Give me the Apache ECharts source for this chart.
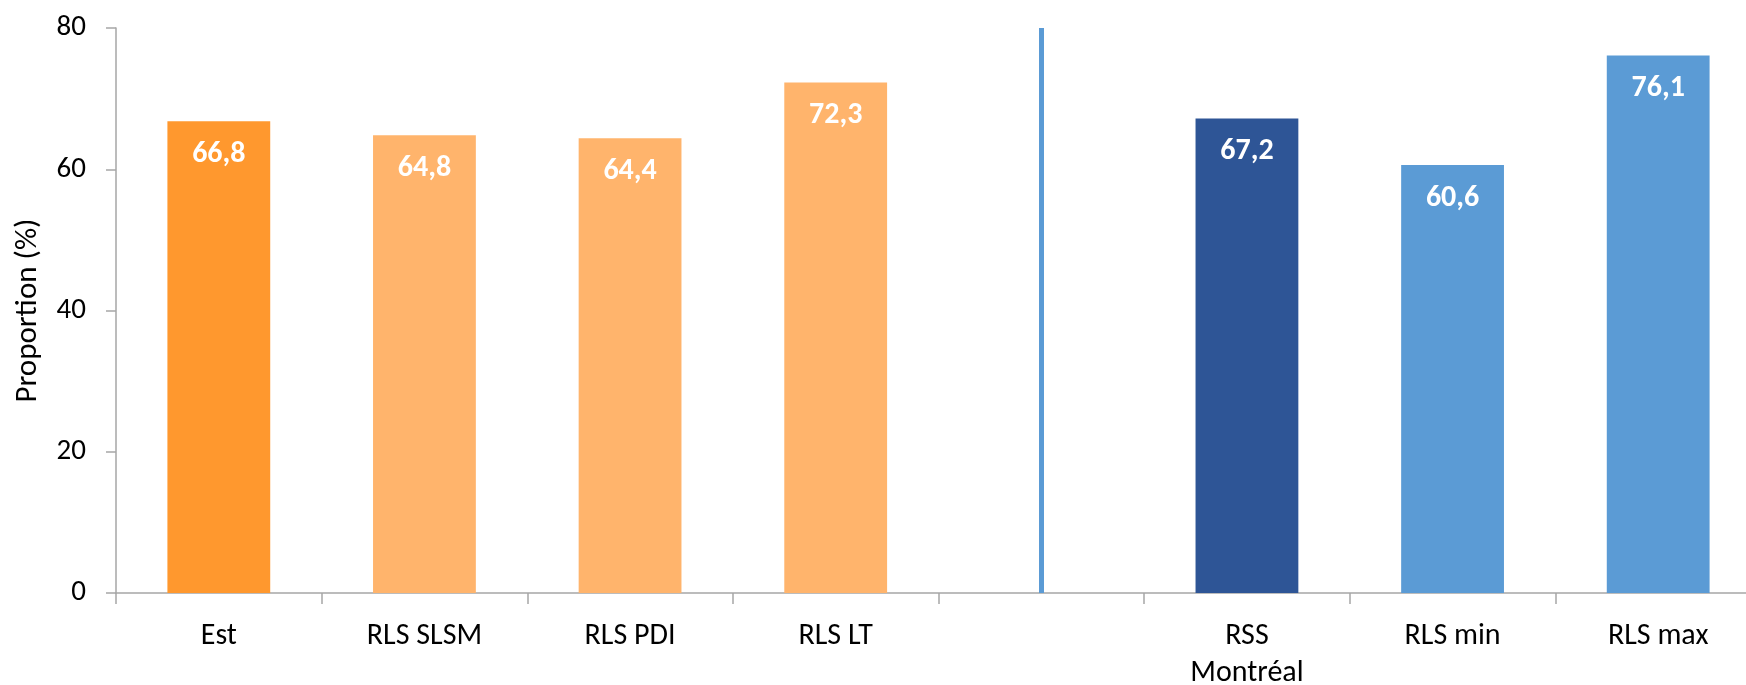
<!DOCTYPE html>
<html>
<head>
<meta charset="utf-8">
<script src="https://cdn.jsdelivr.net/npm/echarts@6/dist/echarts.min.js"></script>
<style>html,body{margin:0;padding:0;background:#fff;overflow:hidden;}#c{width:1746px;height:685px;}</style>
</head>
<body>
<div id="c"></div>
<script>
const categories = ['Est', 'RLS SLSM', 'RLS PDI', 'RLS LT', '', 'RSS\nMontréal', 'RLS min', 'RLS max'];
const values = [66.8, 64.8, 64.4, 72.3, null, 67.2, 60.6, 76.1];
const barColors = ['#FF982E', '#FFB46C', '#FFB46C', '#FFB46C', '#FFFFFF', '#2E5596', '#5B9BD5', '#5B9BD5'];
const yTicks = [0, 20, 40, 60, 80];
const dividerIndex = 4;

const FONT = "Carlito, Lato, 'Open Sans', sans-serif";
const chart = echarts.init(document.getElementById('c'));
chart.setOption({
  animation: false,
  grid: { left: 116, right: -15, top: 28, bottom: 92, containLabel: false, outerBoundsMode: 'none' },
  xAxis: {
    type: 'category',
    data: categories,
    axisLine: { lineStyle: { color: '#A6A6A6', width: 1.5 } },
    axisTick: { show: true, length: 11, lineStyle: { color: '#A6A6A6', width: 1.5 } },
    axisLabel: { color: '#000', fontSize: 30, fontFamily: FONT, margin: 25, lineHeight: 37, interval: 0 }
  },
  yAxis: {
    type: 'value',
    min: yTicks[0], max: yTicks[yTicks.length - 1], interval: 20,
    name: 'Proportion (%)',
    nameLocation: 'middle',
    nameGap: 72,
    nameRotate: 90,
    nameTextStyle: { color: '#000', fontSize: 31, fontFamily: FONT },
    splitLine: { show: false },
    axisLine: { show: true, lineStyle: { color: '#A6A6A6', width: 1.5 } },
    axisTick: { show: true, length: 10, lineStyle: { color: '#A6A6A6', width: 1.5 } },
    axisLabel: { color: '#000', fontSize: 29, fontFamily: FONT, margin: 30 }
  },
  series: [{
    type: 'bar',
    barWidth: '50%',
    data: values.map((v, i) => ({ value: v, itemStyle: { color: barColors[i] } })),
    label: {
      show: true,
      position: 'insideTop',
      distance: 18,
      color: '#fff',
      fontWeight: 'bold',
      fontSize: 30,
      fontFamily: FONT,
      formatter: p => p.value == null ? '' : p.value.toFixed(1).replace('.', ',')
    },
    markLine: {
      silent: true,
      symbol: 'none',
      label: { show: false },
      lineStyle: { color: '#5B9BD5', width: 5, type: 'solid' },
      data: [[{ xAxis: dividerIndex, yAxis: 80 }, { xAxis: dividerIndex, yAxis: 0 }]]
    }
  }]
});
</script>
</body>
</html>
